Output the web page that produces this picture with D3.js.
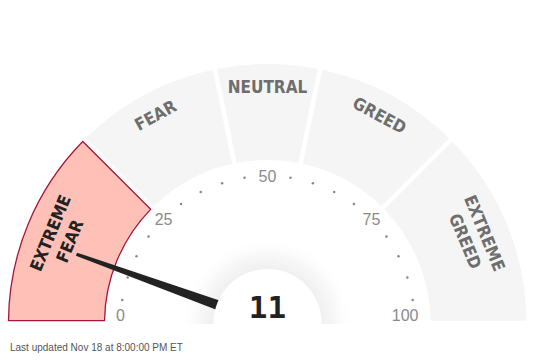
<!DOCTYPE html>
<html>
<head>
<meta charset="utf-8">
<script src="https://cdn.jsdelivr.net/npm/d3@7"></script>
<style>
  body { margin: 0; background: #fff; }
  svg { display: block; }
</style>
</head>
<body>
<svg width="535" height="360"></svg>
<script>
// data
const segmentBounds = [0, 25, 43.5, 56.5, 75, 100];
const segmentLabels = [["EXTREME", "FEAR"], ["FEAR"], ["NEUTRAL"], ["GREED"], ["EXTREME", "GREED"]];
const tickLabels = [0, 25, 50, 75, 100];
const dotValues = [5, 10, 15, 20, 30, 35, 40, 45, 55, 60, 65, 70, 80, 85, 90, 95];
const currentValue = 11;
const updatedText = "Last updated Nov 18 at 8:00:00 PM ET";

// sizing
const svg = d3.select("svg"),
    cx = 267.5, cy = 323,
    rOuter = 259, rInner = 163,
    rTicks = 147, rCenter = 54;

const angle = d3.scaleLinear().domain([0, 100]).range([-Math.PI / 2, Math.PI / 2]);
const deg = v => angle(v) * 180 / Math.PI;
const polar = (v, r) => [cx + r * Math.sin(angle(v)), cy - r * Math.cos(angle(v))];

const activeIdx = d3.bisectRight(segmentBounds, currentValue) - 1;

const defs = svg.append("defs");
const glow = defs.append("radialGradient").attr("id", "glow");
glow.append("stop").attr("offset", "0.62").attr("stop-color", "#f0f0f0");
glow.append("stop").attr("offset", "0.8").attr("stop-color", "#f8f8f8");
glow.append("stop").attr("offset", "1").attr("stop-color", "#fff").attr("stop-opacity", 0);

const g = svg.append("g").attr("transform", "translate(" + cx + "," + cy + ")");

// segments
const arc = d3.arc().innerRadius(rInner).outerRadius(rOuter).padAngle(0.015);
const segs = d3.range(segmentLabels.length).map(i => ({
  i: i, startAngle: angle(segmentBounds[i]), endAngle: angle(segmentBounds[i + 1])
}));

g.selectAll(".seg")
  .data(segs)
  .enter().append("path")
  .attr("class", "seg")
  .attr("d", arc)
  .attr("fill", d => d.i === activeIdx ? "#ffc1b7" : "#f5f5f5")
  .attr("stroke", d => d.i === activeIdx ? "#a3173b" : "none")
  .attr("stroke-width", 1.3);

// segment labels
segs.forEach(function(d) {
  const mid = (segmentBounds[d.i] + segmentBounds[d.i + 1]) / 2;
  const lines = segmentLabels[d.i];
  const radii = lines.length === 1 ? [236] : [235, 214];
  lines.forEach(function(t, k) {
    const p = polar(mid, radii[k]);
    svg.append("text")
      .attr("transform", "translate(" + p[0] + "," + p[1] + ") rotate(" + deg(mid) + ")")
      .attr("text-anchor", "middle")
      .attr("dominant-baseline", "central")
      .style("font-family", "'DejaVu Sans Condensed', 'DejaVu Sans', sans-serif")
      .style("font-weight", "bold")
      .style("font-size", "17px")
      .attr("fill", d.i === activeIdx ? "#222" : "#6e6e6e")
      .text(t);
  });
});

// dots
svg.selectAll(".dot")
  .data(dotValues)
  .enter().append("circle")
  .attr("class", "dot")
  .attr("cx", d => polar(d, rTicks)[0])
  .attr("cy", d => polar(d, rTicks)[1])
  .attr("r", 1.3)
  .attr("fill", "#8c8c8c");

// tick labels
svg.selectAll(".tick")
  .data(tickLabels)
  .enter().append("text")
  .attr("class", "tick")
  .attr("x", d => polar(d, rTicks)[0] + (d === 100 ? 4 : 0))
  .attr("y", d => Math.min(polar(d, rTicks)[1], cy - 8))
  .attr("text-anchor", d => d === 100 ? "end" : "middle")
  .attr("dominant-baseline", "central")
  .style("font-family", "'Liberation Sans', Arial, sans-serif")
  .style("font-size", "16px")
  .attr("fill", "#8a8a8a")
  .text(d => d);

// glow behind hub
svg.append("circle")
  .attr("cx", cx).attr("cy", cy).attr("r", 86)
  .attr("fill", "url(#glow)");

// needle
const needleLen = 203;
svg.append("path")
  .attr("transform", "translate(" + cx + "," + cy + ") rotate(" + deg(currentValue) + ")")
  .attr("d", d3.line()([[-6, 0], [6, 0], [1.7, -needleLen], [-1.7, -needleLen]]) + "Z")
  .attr("fill", "#222");

// hub
svg.append("circle")
  .attr("cx", cx).attr("cy", cy).attr("r", rCenter)
  .attr("fill", "#fff");

svg.append("text")
  .attr("x", cx).attr("y", 318)
  .attr("text-anchor", "middle")
  .style("font-family", "'DejaVu Sans Mono', monospace")
  .style("font-weight", "bold")
  .style("font-size", "31px")
  .attr("fill", "#222")
  .text(currentValue);

// cover below baseline
svg.append("rect")
  .attr("x", 0).attr("y", cy + 1).attr("width", 535).attr("height", 40)
  .attr("fill", "#fff");

svg.append("text")
  .attr("x", 10).attr("y", 351)
  .style("font-family", "'Liberation Sans', Arial, sans-serif")
  .style("font-size", "10px")
  .attr("fill", "#555")
  .text(updatedText);
</script>
</body>
</html>
